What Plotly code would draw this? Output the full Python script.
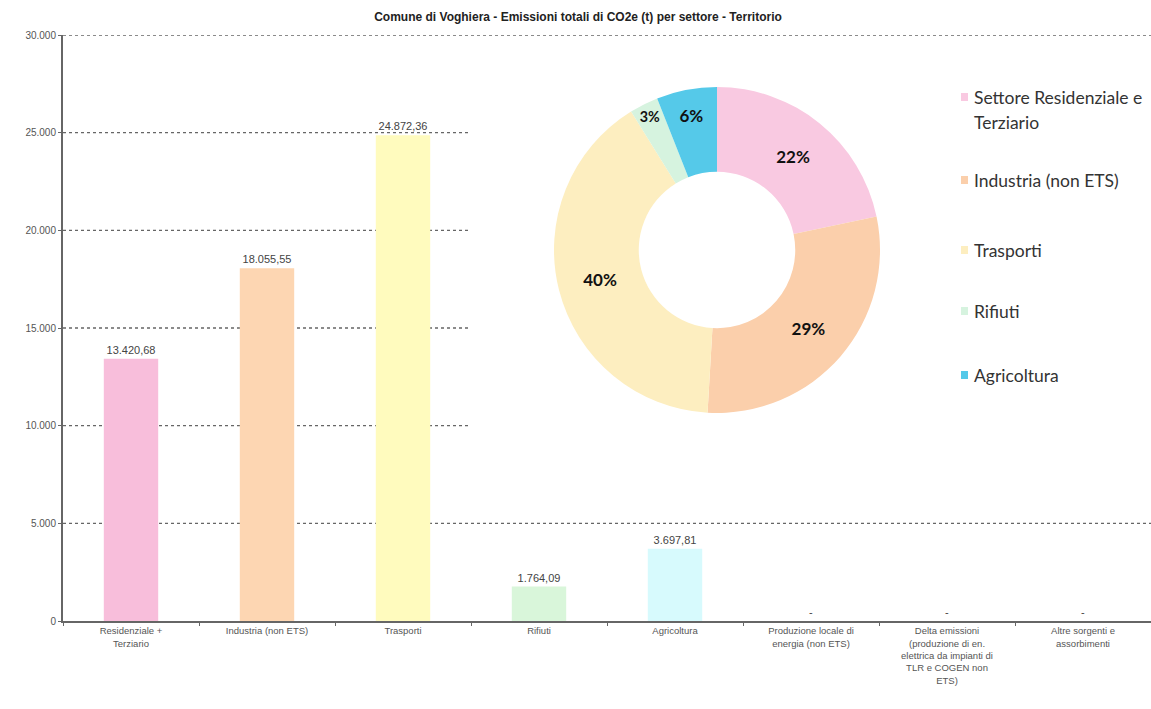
import plotly.graph_objects as go

# Emissioni per settore (t CO2e)
categories = [
    "Residenziale +<br>Terziario",
    "Industria (non ETS)",
    "Trasporti",
    "Rifiuti",
    "Agricoltura",
    "Produzione locale di<br>energia (non ETS)",
    "Delta emissioni<br>(produzione di en.<br>elettrica da impianti di<br>TLR e COGEN non<br>ETS)",
    "Altre sorgenti e<br>assorbimenti",
]
emissions = [13420.68, 18055.55, 24872.36, 1764.09, 3697.81, 0, 0, 0]
bar_colors = ["#F8BEDB", "#FDD6B2", "#FFFBBE", "#D9F6DA", "#D7FAFD",
              "#DDDDDD", "#DDDDDD", "#DDDDDD"]

# Ripartizione percentuale (ciambella)
sectors = ["Settore Residenziale e Terziario", "Industria (non ETS)",
           "Trasporti", "Rifiuti", "Agricoltura"]
sector_values = emissions[:5]
pie_colors = ["#F9C9E1", "#FBCFAB", "#FDEEC0", "#D6F3DF", "#55C9E9"]

y_ticks = [0, 5000, 10000, 15000, 20000, 25000, 30000]

W, H = 1151, 709
ML, MR, MT, MB = 63, 0, 35, 88
PW, PH = W - ML - MR, H - MT - MB


def px_x(x):
    return (x - ML) / PW


def px_y(y):
    return (H - MB - y) / PH


fig = go.Figure()

# dotted gridlines; the ones that pass behind the doughnut panel stop short of it
panel_left = px_x(470)
for t in y_ticks[1:]:
    right = 1.0 if t in (5000, 30000) else panel_left
    fig.add_shape(type="line", xref="paper", yref="y",
                  x0=0, x1=right, y0=t, y1=t,
                  line=dict(color="#666666", width=1.3, dash="dot"), layer="below")

fig.add_trace(go.Bar(
    x=categories,
    y=emissions,
    marker=dict(color=bar_colors, line=dict(width=0)),
    width=0.4,
    texttemplate=["%{y:,.2f}" if v > 0 else "-" for v in emissions],
    textposition="outside",
    textfont=dict(family="Liberation Sans, Arial", size=11, color="#444444"),
    cliponaxis=False,
    showlegend=False,
    hoverinfo="skip",
))

fig.add_trace(go.Pie(
    labels=sectors,
    values=sector_values,
    sort=False,
    direction="clockwise",
    rotation=0,
    hole=0.48,
    marker=dict(colors=pie_colors, line=dict(width=0)),
    texttemplate="<b>%{percent:.0%}</b>",
    textposition="inside",
    insidetextorientation="horizontal",
    textfont=dict(family="Lato, Open Sans", size=17, color="#111111"),
    domain=dict(x=[px_x(554), px_x(880)], y=[px_y(413), px_y(87)]),
    showlegend=False,
    hoverinfo="skip",
))

# legend of the doughnut
legend_rows = [
    (["Settore Residenziale e", "Terziario"], 97),
    (["Industria (non ETS)"], 180),
    (["Trasporti"], 250),
    (["Rifiuti"], 311),
    (["Agricoltura"], 375),
]
for (lines, ypix), col in zip(legend_rows, pie_colors):
    fig.add_shape(type="rect", xref="paper", yref="paper",
                  x0=px_x(961), x1=px_x(968), y0=px_y(ypix + 4), y1=px_y(ypix - 4),
                  fillcolor=col, line=dict(width=0), layer="above")
    for i, txt in enumerate(lines):
        fig.add_annotation(xref="paper", yref="paper",
                           x=px_x(972), y=px_y(ypix + 25 * i),
                           xanchor="left", yanchor="middle", showarrow=False,
                           text=txt,
                           font=dict(family="Lato, Open Sans", size=17.5, color="#333333"))

fig.update_layout(
    width=W, height=H,
    margin=dict(l=ML, r=MR, t=MT, b=MB, pad=0),
    paper_bgcolor="white", plot_bgcolor="white",
    separators=",.",
    bargap=0.6,
    title=dict(text="<b>Comune di Voghiera - Emissioni totali di CO2e (t) per settore - Territorio</b>",
               x=578 / W, xanchor="center",
               y=1 - 17 / H, yanchor="middle",
               font=dict(family="Liberation Sans, Arial", size=12, color="#222222")),
    xaxis=dict(
        showline=True, linecolor="#666666", linewidth=2,
        ticks="outside", tickson="boundaries", ticklen=3, tickcolor="#666666",
        tickfont=dict(family="Liberation Sans, Arial", size=9.5, color="#555555"),
        showgrid=False,
    ),
    yaxis=dict(
        range=[0, 30000], tickvals=y_ticks, tickformat=",d",
        showline=True, linecolor="#666666", linewidth=2,
        ticks="outside", ticklen=3, tickcolor="#666666",
        tickfont=dict(family="Liberation Sans, Arial", size=10, color="#555555"),
        showgrid=False, zeroline=False,
    ),
)

fig.write_html("out.html")
